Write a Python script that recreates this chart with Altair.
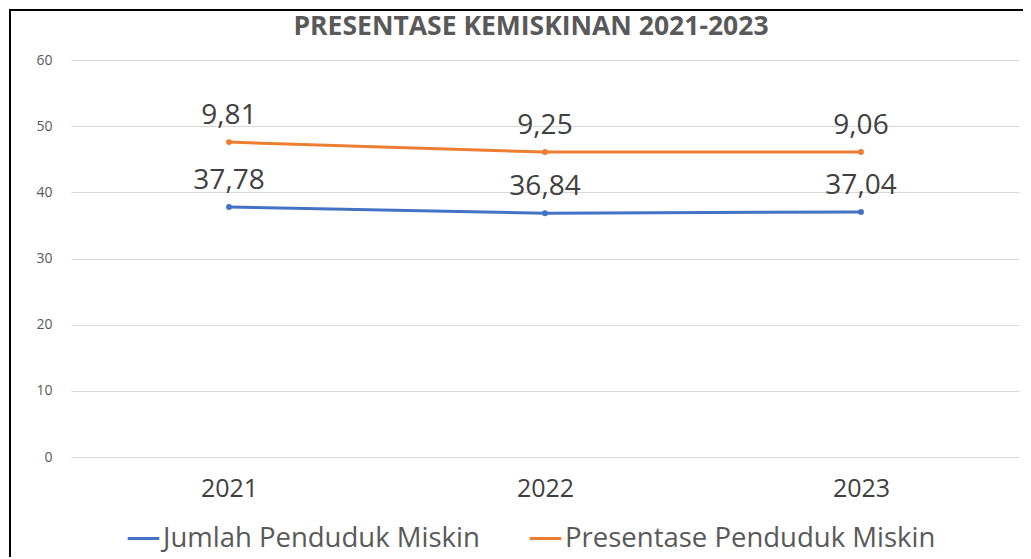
import altair as alt
import pandas as pd

years = ["2021", "2022", "2023"]
jumlah = [37.78, 36.84, 37.04]
presentase = [9.81, 9.25, 9.06]
series_names = ["Jumlah Penduduk Miskin", "Presentase Penduduk Miskin"]
colors = ["#4472C4", "#ED7D31"]
title_text = "PRESENTASE KEMISKINAN 2021-2023"

rows = []
for y, j, p in zip(years, jumlah, presentase):
    rows.append({"tahun": y, "seri": series_names[0], "nilai": j, "pos": j,
                 "label": f"{j:.2f}".replace(".", ",")})
    rows.append({"tahun": y, "seri": series_names[1], "nilai": p, "pos": j + p,
                 "label": f"{p:.2f}".replace(".", ",")})
df = pd.DataFrame(rows)

W, H = 948, 397
FONT = "Open Sans"

x = alt.X("tahun:N", title=None,
          scale=alt.Scale(paddingInner=0, paddingOuter=0.5),
          axis=alt.Axis(labelAngle=0, labelFontSize=25, labelColor="#404040",
                        labelFont=FONT, ticks=False, domain=False, grid=False,
                        labelPadding=19))
y = alt.Y("pos:Q", title=None,
          scale=alt.Scale(domain=[0, 60], nice=False),
          axis=alt.Axis(values=[0, 10, 20, 30, 40, 50, 60], labelFontSize=14,
                        labelColor="#595959", labelFont=FONT, ticks=False,
                        domain=False, gridColor="#d9d9d9", labelPadding=19))
color = alt.Color("seri:N", scale=alt.Scale(domain=series_names, range=colors),
                  legend=alt.Legend(title=None, orient="none", direction="horizontal",
                                    legendX=55, legendY=H + 64,
                                    symbolType="stroke", symbolStrokeWidth=3,
                                    symbolSize=1000, labelFontSize=27.5, labelLimit=0,
                                    labelFont=FONT, labelColor="#595959",
                                    columnPadding=43, labelOffset=2))

base = alt.Chart(df)
lines = base.mark_line(strokeWidth=3, point=alt.OverlayMarkDef(size=35, filled=True)).encode(
    x=x, y=y, color=color, detail="seri:N")
labels = base.mark_text(dy=-26, fontSize=28, font=FONT, color="#404040").encode(
    x=x, y=y, text="label:N")

one = pd.DataFrame({"t": [title_text]})
title = alt.Chart(one).mark_text(fontSize=26.5, font=FONT, fontWeight="bold",
                                 color="#595959").encode(
    x=alt.value(460), y=alt.value(-33), text="t:N")

frame = alt.Chart(one).mark_rect(
    fill=None, stroke="black", strokeWidth=2, clip=False).encode(
    x=alt.value(-61), x2=alt.value(W + 30), y=alt.value(-50), y2=alt.value(H + 130))

chart = alt.layer(frame, title, lines, labels).properties(
    width=W, height=H,
    background="white",
    autosize=alt.AutoSizeParams(type="none"),
    padding={"left": 63, "top": 52, "right": 4, "bottom": 100},
).configure_view(stroke=None)

chart.save("out.html", embed_options={"renderer": "svg", "actions": False})
